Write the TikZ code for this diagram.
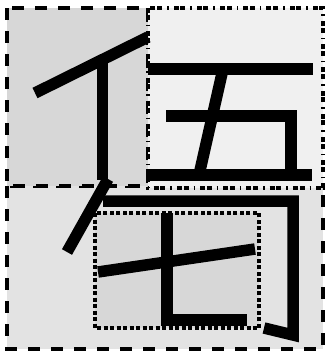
\documentclass[tikz,border=0pt]{standalone}
\definecolor{cellgray}{HTML}{D7D7D7}
\definecolor{cellpale}{HTML}{F0F0F0}
\definecolor{celllight}{HTML}{E3E3E3}
\tikzset{
  cellbox/.style={
    draw=black,
    line width=4.5pt,
    dash pattern=on 12pt off 11pt
  },
  dotbox/.style={
    draw=black,
    line width=3.5pt,
    dash pattern=on 5pt off 1.7pt on 5pt off 5pt on 1.5pt off 5pt
  },
  innerbox/.style={
    draw=black,
    line width=3.5pt,
    dash pattern=on 4pt off 2.5pt
  },
  stroke/.style={
    draw=black,
    line width=11.5pt,
    line cap=butt
  }
}

\begin{document}
\begin{tikzpicture}[x=1pt,y=-1pt]
    \useasboundingbox (0,0) rectangle (326,351);
    % cells
    \path[cellbox,fill=celllight] (7,186) rectangle (323,349);
    \path[cellbox,fill=cellgray] (7,8) rectangle (148,186);
    \path[dotbox,fill=cellpale] (148,8) rectangle (323,188);
    \path[innerbox,fill=cellgray] (95,213) rectangle (259,328);
    % left part
    \draw[stroke] (35,93) -- (148,37);
    \draw[stroke] (102.5,59) -- (102.5,180);
    \draw[stroke] (108,179) -- (67,252);
    % upper right part
    \draw[stroke] (148,69) -- (313,69);
    \draw[stroke] (223,69) -- (199,175);
    \draw[stroke] (166,116) -- (291,116) -- (291,175);
    \draw[stroke] (146,175) -- (312,175);
    % lower part
    \draw[stroke,line join=miter] (103,201) -- (293,201) -- (293,335) -- (264,328);
    \draw[stroke] (98,272) -- (255,249);
    \draw[stroke,line join=miter] (167,213) -- (167,320) -- (247,320);
\end{tikzpicture}
\end{document}
